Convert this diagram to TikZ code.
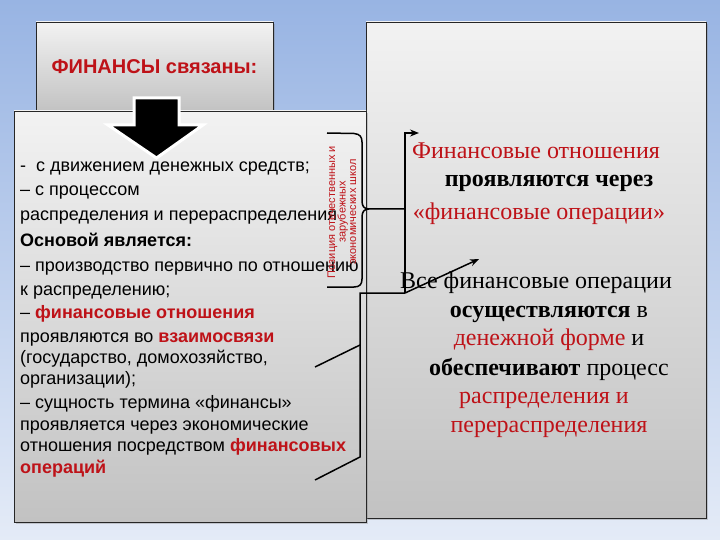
\documentclass[tikz,border=0pt]{standalone}
\usepackage{fontspec}
\setmainfont{Liberation Sans}
\newfontfamily\serifru{Liberation Serif}
\usetikzlibrary{shadows,arrows.meta}
\definecolor{bgtop}{RGB}{152,180,227}
\definecolor{bgbot}{RGB}{228,235,247}
\definecolor{redtx}{RGB}{190,18,24}
\colorlet{boxhi}{black!5}
\colorlet{boxlo}{black!24}
\newcommand{\redbf}[1]{\textcolor{redtx}{\textbf{#1}}}
\tikzset{
    panel/.style={draw=black!85,line width=0.8pt,top color=boxhi,bottom color=boxlo,inner sep=0pt,
        drop shadow={opacity=0.35,shadow xshift=2pt,shadow yshift=-2pt}},
    link/.style={black,line width=1.5pt},
    ltext/.style={anchor=base west,inner sep=0pt,font=\fontsize{18}{21}\selectfont},
    rtext/.style={anchor=base,inner sep=0pt,font=\serifru\fontsize{24}{28}\selectfont}
}

\begin{document}
\begin{tikzpicture}[x=1pt,y=-1pt]
    \useasboundingbox (0,0) rectangle (720,540);
    \shade[top color=bgtop,bottom color=bgbot] (0,0) rectangle (720,540);
    % panels
    \node [panel,minimum width=237pt,minimum height=90pt,
        font=\fontsize{20}{23}\selectfont\bfseries,text=redtx] (head) at (154.5,67) {ФИНАНСЫ связаны:};
    \node [panel,minimum width=340pt,minimum height=496pt] (rbox) at (536,270) {};
    \node [panel,minimum width=352pt,minimum height=411pt] (lbox) at (190,316.5) {};
    % big arrow
    \filldraw [draw=white,line width=3pt,fill=black,line join=miter]
        (134,98) -- (179,98) -- (179,125) -- (203,125) -- (156.5,158)
        -- (108,125) -- (134,125) -- cycle;
    % left text
    \foreach \yy/\tx [count=\i] in {
        172/{-~~с движением денежных средств;},
        196/{– с процессом},
        221/{распределения и перераспределения},
        246/{\textbf{Основой является:}},
        271/{– производство первично по отношению},
        295/{к распределению;},
        318/{– \redbf{финансовые отношения}},
        342/{проявляются во \redbf{взаимосвязи}},
        363/{(государство, домохозяйство,},
        384/{организации);},
        408/{– сущность термина «финансы»},
        430/{проявляется через экономические},
        451/{отношения посредством \redbf{финансовых}},
        473/{\redbf{операций}}
    } {
        \node [ltext] (lt\i) at (20,\yy) {\tx};
    }
    % right text
    \foreach \xx/\yy/\tx [count=\i] in {
        536/159/{\textcolor{redtx}{Финансовые отношения}},
        549/187/{\textbf{проявляются через}},
        539/220/{\textcolor{redtx}{«финансовые операции»}},
        536/288/{Все финансовые операции},
        549/317/{\textbf{осуществляются} в},
        549/345/{\textcolor{redtx}{денежной форме} и},
        549/375/{\textbf{обеспечивают} процесс},
        544/403/{\textcolor{redtx}{распределения и}},
        549/432/{\textcolor{redtx}{перераспределения}}
    } {
        \node [rtext] (rt\i) at (\xx,\yy) {\tx};
    }
    % vertical note
    \node [rotate=90,align=center,inner sep=0pt,text=redtx,
        font=\fontsize{11}{10.5}\selectfont] (note) at (342,212)
        {Позиция отечественных и\\зарубежных\\экономических школ};
    % brace and links
    \coordinate (bt) at (327,133);
    \coordinate (bb) at (327,287);
    \coordinate (bm) at (405,209);
    \coordinate (j1) at (405,293);
    \coordinate (j2) at (360,293);
    \coordinate (j3) at (360,457);
    \coordinate (k1) at (360,345);
    \coordinate (t1) at (315,367);
    \coordinate (t2) at (315,480);
    \coordinate (a1) at (419,133);
    \coordinate (a2) at (479,259);
    \draw [link] (bt) -- (354,133.5) .. controls (360,134) and (362,137) .. (362,142)
        -- (362,201) .. controls (362,206) and (364,209) .. (369,209) -- (bm);
    \draw [link] (369,209) .. controls (364,209) and (362,212) .. (362,217)
        -- (362,279) .. controls (362,284) and (360,287) .. (354,287) -- (bb);
    \draw [link,-{Stealth[length=9pt,width=7pt]}] (j1) |- (a1);
    \draw [link,-{Stealth[length=9pt,width=7pt]}] (j1) -- (a2);
    \draw [link] (j1) -- (j2) -- (j3) -- (t2);
    \draw [link] (k1) -- (t1);
\end{tikzpicture}
\end{document}
